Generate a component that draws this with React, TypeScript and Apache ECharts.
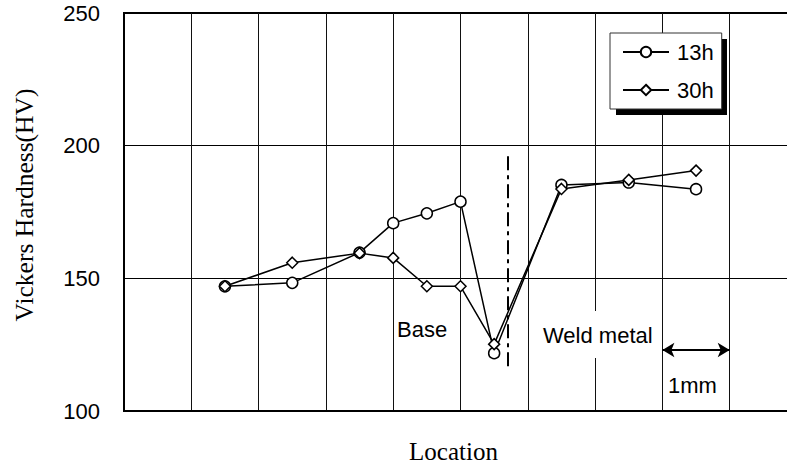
import React, { useEffect, useRef } from "react";
import * as echarts from "echarts";

const locations = [1.5, 2.5, 3.5, 4, 4.5, 5, 5.5, 6.5, 7.5, 8.5];
const hv13h = [147, 148.3, 159.7, 170.8, 174.5, 178.9, 121.8, 185.2, 186.1, 183.6];
const hv30h = [147, 155.9, 159.5, 157.7, 147, 147, 125.2, 183.7, 187.1, 190.6];
const seriesNames = ["13h", "30h"];
const yTicks = { min: 100, max: 250, interval: 50 };
const xRange = { min: 0, max: 10, interval: 1 };
const boundaryX = 5.7;
const boundaryY = [196, 115];
const scaleBar = { from: 8, to: 9, y: 123 };

const SANS = "'Liberation Sans', Arial, sans-serif";
const SERIF = "'Liberation Serif', 'Times New Roman', serif";

export default function App() {
  const ref = useRef<HTMLDivElement>(null);
  useEffect(() => {
    if (!ref.current) return;
    const chart = echarts.init(ref.current, null, { renderer: "svg" });
    const mkData = (vals: number[]) => locations.map((x, i) => [x, vals[i]]);
    const common = {
      type: "line",
      lineStyle: { color: "#000", width: 1.5 },
      itemStyle: { color: "#fff", borderColor: "#000", borderWidth: 1.5 },
      symbolSize: 11,
      showSymbol: true,
      z: 5,
    };
    chart.setOption({
      animation: false,
      backgroundColor: "#fff",
      grid: {
        left: 124,
        top: 13,
        right: 0,
        bottom: 61,
        show: true,
        borderColor: "#000",
        borderWidth: 2,
        backgroundColor: "transparent",
      },
      legend: {
        orient: "vertical",
        left: 610,
        top: 33,
        padding: [8, 8, 8, 12],
        itemWidth: 46,
        itemHeight: 13,
        itemGap: 16,
        backgroundColor: "#fff",
        borderColor: "#333",
        borderWidth: 1,
        data: seriesNames,
        textStyle: { fontFamily: SANS, fontSize: 22, color: "#000", lineHeight: 22, padding: [0, 0, 0, 3] },
        z: 10,
      },
      graphic: [
        { type: "rect", z: 8, shape: { x: 616, y: 39, width: 111, height: 76 }, style: { fill: "#000" } },
        {
          type: "text",
          z: 8,
          x: 397,
          y: 329,
          style: { text: "Base", font: `22px ${SANS}`, fill: "#000", verticalAlign: "middle", align: "left" },
        },
        { type: "rect", z: 8, shape: { x: 541, y: 311, width: 118, height: 47 }, style: { fill: "#fff" } },
        {
          type: "text",
          z: 9,
          x: 543,
          y: 335,
          style: { text: "Weld metal", font: `22px ${SANS}`, fill: "#000", verticalAlign: "middle", align: "left" },
        },
        {
          type: "text",
          z: 9,
          x: 668,
          y: 385,
          style: { text: "1mm", font: `22px ${SANS}`, fill: "#000", verticalAlign: "middle", align: "left" },
        },
      ],
      xAxis: {
        type: "value",
        min: xRange.min,
        max: xRange.max,
        interval: xRange.interval,
        name: "Location",
        nameLocation: "middle",
        nameGap: 28,
        nameTextStyle: { fontFamily: SERIF, fontSize: 25, color: "#000", padding: [0, 14, 0, 0] },
        axisLine: { show: true, lineStyle: { color: "#000", width: 2 } },
        axisTick: { show: false },
        axisLabel: { show: false },
        splitLine: { show: true, lineStyle: { color: "#111", width: 1 } },
      },
      yAxis: {
        type: "value",
        min: yTicks.min,
        max: yTicks.max,
        interval: yTicks.interval,
        name: "Vickers Hardness(HV)",
        nameLocation: "middle",
        nameGap: 87,
        nameTextStyle: { fontFamily: SERIF, fontSize: 25.5, color: "#000", padding: [0, 0, 0, 14] },
        axisLine: { show: true, lineStyle: { color: "#000", width: 2 } },
        axisTick: { show: false },
        axisLabel: {
          margin: 24,
          fontFamily: SANS,
          fontSize: 22,
          color: "#000",
          padding: [10, 0, 0, 0],
        },
        splitLine: { show: true, lineStyle: { color: "#000", width: 1 } },
      },
      series: [
        {
          ...common,
          name: seriesNames[0],
          symbol: "circle",
          data: mkData(hv13h),
          markLine: {
            silent: true,
            symbol: ["arrow", "arrow"],
            symbolSize: [11, 12],
            label: { show: false },
            lineStyle: { color: "#000", width: 2, type: "solid" },
            data: [[{ coord: [scaleBar.from, scaleBar.y] }, { coord: [scaleBar.to, scaleBar.y] }]],
          },
        },
        {
          ...common,
          name: seriesNames[1],
          symbol: "diamond",
          data: mkData(hv30h),
          markLine: {
            silent: true,
            symbol: ["none", "none"],
            label: { show: false },
            lineStyle: { color: "#000", width: 2, type: [14, 5, 4, 5] },
            data: [[{ coord: [boundaryX, boundaryY[0]] }, { coord: [boundaryX, boundaryY[1]] }]],
          },
        },
      ],
    });
    return () => chart.dispose();
  }, []);
  return (
    <div style={{ position: "absolute", left: 0, top: 0, width: 787, height: 472, overflow: "hidden" }}>
      <div ref={ref} style={{ position: "absolute", left: 0, top: 0, width: 797, height: 472 }} />
    </div>
  );
}
